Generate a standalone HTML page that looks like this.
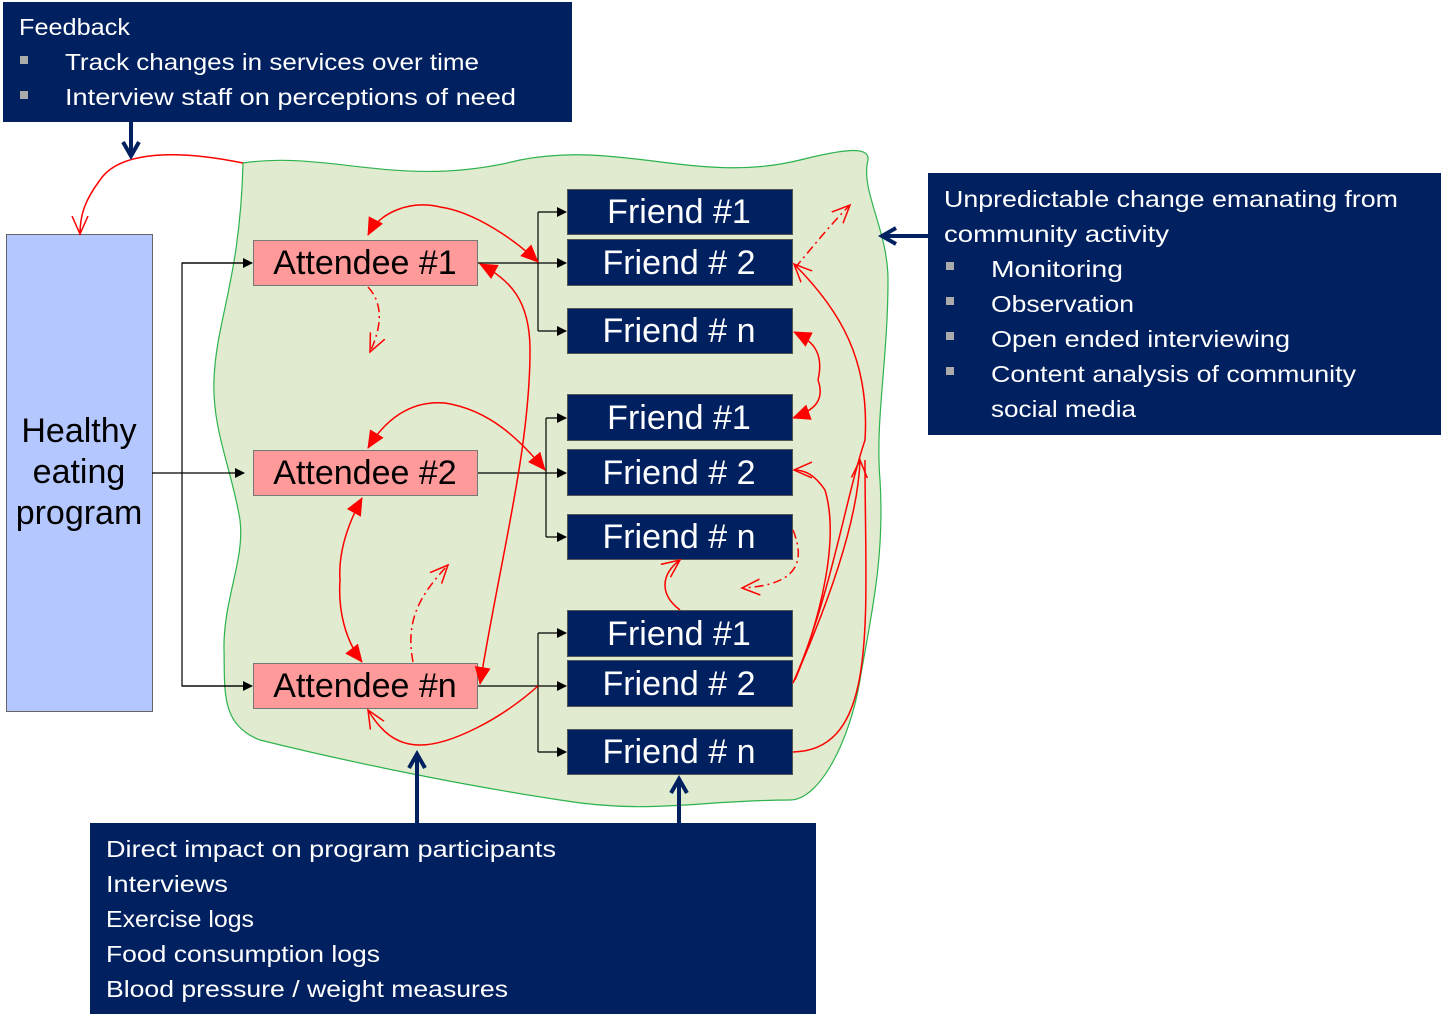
<!DOCTYPE html>
<html><head><meta charset="utf-8"><style>
html,body{margin:0;padding:0;background:#fff;width:1441px;height:1023px;overflow:hidden}
svg{display:block}
.c{font-family:"Liberation Sans",sans-serif}
</style></head><body>
<svg width="1441" height="1023" viewBox="0 0 1441 1023" xmlns="http://www.w3.org/2000/svg">
<defs>
<marker id="bk" markerWidth="10" markerHeight="10" refX="9" refY="5" orient="auto" markerUnits="userSpaceOnUse"><path d="M0,0 L10,5 L0,10 z" fill="#000"/></marker>
<marker id="rf" markerWidth="18" markerHeight="18" refX="17" refY="8" orient="auto" markerUnits="userSpaceOnUse"><path d="M0,0 L18,8 L0,16 z" fill="#f00"/></marker>
<marker id="ro" markerWidth="20" markerHeight="20" refX="18" refY="9" orient="auto" markerUnits="userSpaceOnUse"><path d="M0,1 L18,9 L0,17" fill="none" stroke="#f00" stroke-width="1.5"/></marker>
<marker id="nv" markerWidth="20" markerHeight="20" refX="16" refY="10" orient="auto" markerUnits="userSpaceOnUse"><path d="M2,2 L16,10 L2,18" fill="none" stroke="#002060" stroke-width="4"/></marker>
</defs>

<path d="M243,163 C330,150 400,190 520,160 C620,140 700,185 800,160 C840,150 870,145 868,160 C860,190 888,230 888,280 C888,360 875,420 880,480 C885,560 870,620 860,680 C850,740 820,800 790,800 C700,800 650,815 560,800 C460,785 340,760 260,740 C220,725 225,690 224,650 C223,600 245,560 240,520 C232,470 212,430 214,380 C216,320 240,280 243,163 Z" fill="#e0ebcf" stroke="#2db34d" stroke-width="1.2"/>

<rect x="6.5" y="234.5" width="146" height="477" fill="#b4c7fe" stroke="#666" stroke-width="1"/>
<g class="c" font-size="34" text-anchor="middle" fill="#000">
<text x="79" y="442">Healthy</text><text x="79" y="483">eating</text><text x="79" y="524">program</text>
</g>

<g stroke="#000" stroke-width="1.2" fill="none">
<path d="M152,473 H244" marker-end="url(#bk)"/>
<path d="M244,263 H182 V686 H244" />
<path d="M182,263 H252" marker-end="url(#bk)"/>
<path d="M182,686 H252" marker-end="url(#bk)"/>
<path d="M477,263 H566" marker-end="url(#bk)"/>
<path d="M538,212 V331"/><path d="M538,212 H566" marker-end="url(#bk)"/><path d="M538,331 H566" marker-end="url(#bk)"/>
<path d="M477,473 H566" marker-end="url(#bk)"/>
<path d="M546,418 V537"/><path d="M546,418 H566" marker-end="url(#bk)"/><path d="M546,537 H566" marker-end="url(#bk)"/>
<path d="M477,686 H566" marker-end="url(#bk)"/>
<path d="M538,633 V752"/><path d="M538,633 H566" marker-end="url(#bk)"/><path d="M538,752 H566" marker-end="url(#bk)"/>
</g>

<g fill="#ff9a9a" stroke="#777" stroke-width="1">
<rect x="253.5" y="240.5" width="224" height="45"/>
<rect x="253.5" y="450.5" width="224" height="45"/>
<rect x="253.5" y="663.5" width="224" height="45"/>
</g>
<g class="c" font-size="34" text-anchor="middle" fill="#000">
<text x="365" y="274">Attendee #1</text>
<text x="365" y="484">Attendee #2</text>
<text x="365" y="697">Attendee #n</text>
</g>

<g fill="#002060" stroke="#555" stroke-width="1">
<rect x="567.5" y="189.5" width="225" height="45"/>
<rect x="567.5" y="239.5" width="225" height="46"/>
<rect x="567.5" y="308.5" width="225" height="45"/>
<rect x="567.5" y="394.5" width="225" height="46"/>
<rect x="567.5" y="449.5" width="225" height="46"/>
<rect x="567.5" y="514.5" width="225" height="45"/>
<rect x="567.5" y="610.5" width="225" height="46"/>
<rect x="567.5" y="660.5" width="225" height="46"/>
<rect x="567.5" y="729.5" width="225" height="45"/>
</g>
<g class="c" font-size="34" text-anchor="middle" fill="#fff">
<text x="679" y="223">Friend #1</text>
<text x="679" y="274">Friend # 2</text>
<text x="679" y="342">Friend # n</text>
<text x="679" y="429">Friend #1</text>
<text x="679" y="484">Friend # 2</text>
<text x="679" y="548">Friend # n</text>
<text x="679" y="645">Friend #1</text>
<text x="679" y="695">Friend # 2</text>
<text x="679" y="763">Friend # n</text>
</g>

<g stroke="#f00" stroke-width="1.5" fill="none">
<path d="M243,163 C180,150 120,150 100,180 C85,200 80,215 80,234" marker-end="url(#ro)"/>
<path d="M440,207 C475,212 515,240 538,262" marker-end="url(#rf)"/>
<path d="M440,207 C410,200 380,212 368,235" marker-end="url(#rf)"/>
<path d="M530,350 C530,300 510,280 480,264" marker-end="url(#rf)"/>
<path d="M530,350 C530,450 500,560 480,684" marker-end="url(#rf)"/>
<path d="M445,403 C490,410 520,440 545,470" marker-end="url(#rf)"/>
<path d="M445,403 C410,400 385,420 368,448" marker-end="url(#rf)"/>
<path d="M340,580 C338,550 350,520 362,498" marker-end="url(#rf)"/>
<path d="M340,580 C338,610 345,640 362,662" marker-end="url(#rf)"/>
<path d="M818,380 C825,350 810,340 794,332" marker-end="url(#rf)"/>
<path d="M818,380 C825,400 815,410 793,418" marker-end="url(#rf)"/>
<path d="M538,686 C500,720 450,745 420,745 C395,745 380,730 368,710" marker-end="url(#ro)"/>
<path d="M793,683 C830,600 858,520 860,460" marker-end="url(#ro)"/>
<path d="M793,683 C830,600 845,500 865,440 C870,360 840,310 794,264" marker-end="url(#ro)"/>
<path d="M793,752 C880,750 865,620 865,460" />
<path d="M795,680 C820,620 840,540 825,490 C815,475 805,470 794,470" marker-end="url(#ro)"/>
<path d="M680,610 C660,595 660,575 680,560" marker-end="url(#ro)"/>
<g stroke-dasharray="9,4,2,4">
<path d="M368,287 C380,300 385,320 370,352" marker-end="url(#ro)"/>
<path d="M795,268 C810,250 830,225 850,205" marker-end="url(#ro)"/>
<path d="M413,662 C405,620 420,595 448,565" marker-end="url(#ro)"/>
<path d="M793,530 C805,560 800,585 742,588" marker-end="url(#ro)"/>
</g>
</g>

<g stroke="#002060" stroke-width="4" fill="none">
<path d="M131,122 V156" marker-end="url(#nv)"/>
<path d="M928,236 H882" marker-end="url(#nv)"/>
<path d="M417,823 V754" marker-end="url(#nv)"/>
<path d="M679,823 V779" marker-end="url(#nv)"/>
</g>

<rect x="3" y="2" width="569" height="120" fill="#002060"/>
<g class="c" font-size="23" fill="#fff">
<text x="19" y="35" textLength="111" lengthAdjust="spacingAndGlyphs">Feedback</text>
<rect x="20" y="56" width="8" height="8" fill="#aaa"/>
<rect x="20" y="91" width="8" height="8" fill="#aaa"/>
<text x="65" y="70" textLength="414" lengthAdjust="spacingAndGlyphs">Track changes in services over time</text>
<text x="65" y="105" textLength="451" lengthAdjust="spacingAndGlyphs">Interview staff on perceptions of need</text>
</g>

<rect x="928" y="173" width="513" height="262" fill="#002060"/>
<g class="c" font-size="23" fill="#fff">
<text x="944" y="207" textLength="454" lengthAdjust="spacingAndGlyphs">Unpredictable change emanating from</text>
<text x="944" y="242" textLength="225" lengthAdjust="spacingAndGlyphs">community activity</text>
<rect x="946" y="262" width="8" height="8" fill="#aaa"/>
<rect x="946" y="297" width="8" height="8" fill="#aaa"/>
<rect x="946" y="332" width="8" height="8" fill="#aaa"/>
<rect x="946" y="367" width="8" height="8" fill="#aaa"/>
<text x="991" y="277" textLength="132" lengthAdjust="spacingAndGlyphs">Monitoring</text>
<text x="991" y="312" textLength="143" lengthAdjust="spacingAndGlyphs">Observation</text>
<text x="991" y="347" textLength="299" lengthAdjust="spacingAndGlyphs">Open ended interviewing</text>
<text x="991" y="382" textLength="365" lengthAdjust="spacingAndGlyphs">Content analysis of community</text>
<text x="991" y="417" textLength="145" lengthAdjust="spacingAndGlyphs">social media</text>
</g>

<rect x="90" y="823" width="726" height="191" fill="#002060"/>
<g class="c" font-size="23" fill="#fff">
<text x="106" y="857" textLength="450" lengthAdjust="spacingAndGlyphs">Direct impact on program participants</text>
<text x="106" y="892" textLength="122" lengthAdjust="spacingAndGlyphs">Interviews</text>
<text x="106" y="927" textLength="148" lengthAdjust="spacingAndGlyphs">Exercise logs</text>
<text x="106" y="962" textLength="274" lengthAdjust="spacingAndGlyphs">Food consumption logs</text>
<text x="106" y="997" textLength="402" lengthAdjust="spacingAndGlyphs">Blood pressure / weight measures</text>
</g>
</svg>
</body></html>
